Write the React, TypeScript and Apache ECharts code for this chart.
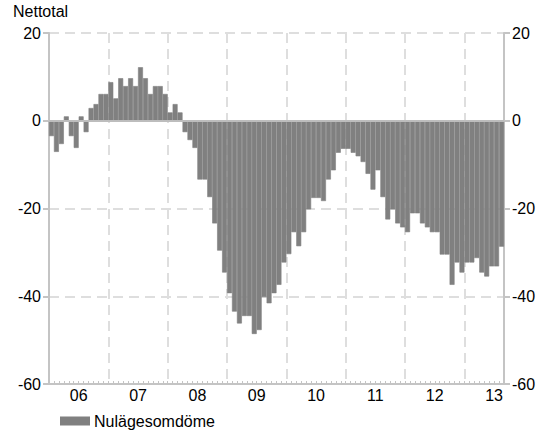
import React, { useEffect, useRef } from "react";
import * as echarts from "echarts";

const FONT = "'Liberation Sans', Arial, sans-serif";

const years = ["06", "07", "08", "09", "10", "11", "12", "13"];
const monthNames = ["jan", "feb", "mar", "apr", "maj", "jun", "jul", "aug", "sep", "okt", "nov", "dec"];

const v2006 = [-3.5, -7.1, -5.3, 1.0, -3.5, -6.2, 1.0, -2.6, 2.9, 3.8, 6.1, 6.1];
const v2007 = [8.8, 5.1, 9.7, 7.9, 9.7, 7.9, 12.2, 9.7, 6.1, 7.9, 7.9, 6.1];
const v2008 = [1.9, 3.8, 1.9, -2.6, -4.4, -6.2, -13.4, -13.4, -17.4, -23.4, -29.6, -34.6];
const v2009 = [-39.3, -43.5, -46.2, -44.5, -44.5, -48.6, -47.7, -40.2, -41.6, -39.3, -37.4, -32.3];
const v2010 = [-30.4, -25.4, -28.6, -25.4, -20.2, -17.6, -17.6, -18.3, -13.4, -11.3, -7.3, -6.4];
const v2011 = [-6.4, -7.3, -8.1, -9.4, -12.1, -15.7, -11.3, -17.4, -22.5, -20.2, -23.4, -24.3];
const v2012 = [-25.4, -21.1, -21.1, -23.4, -24.3, -25.4, -25.4, -30.5, -30.5, -37.4, -32.3, -34.6];
const v2013 = [-32.3, -32.3, -31.3, -34.6, -35.5, -33.2, -33.2, -28.7];

const yTicks = { min: -60, max: 20, interval: 20 };
const seriesName = "Nulägesomdöme";
const yName = "Nettotal";

export default function App() {
  const ref = useRef<HTMLDivElement>(null);

  useEffect(() => {
    document.body.style.margin = "0";
    const values = [...v2006, ...v2007, ...v2008, ...v2009, ...v2010, ...v2011, ...v2012, ...v2013];
    const cats: string[] = [];
    for (let i = 0; i < values.length; i++) {
      cats.push(monthNames[i % 12] + " " + years[Math.floor(i / 12)]);
    }
    const n = values.length;
    const axisGray = "#c4c4c4";
    const chart = echarts.init(ref.current!, null, { renderer: "svg" });
    chart.setOption({
      animation: false,
      textStyle: { fontFamily: FONT },
      grid: { left: 49, right: 44, top: 33, bottom: 47 },
      legend: {
        left: 55,
        top: 408,
        icon: "rect",
        itemWidth: 28,
        itemHeight: 7,
        itemGap: 10,
        textStyle: { fontSize: 16, color: "#000", fontFamily: FONT },
        data: [seriesName],
      },
      graphic: [
        {
          type: "text",
          left: 13,
          top: 3,
          style: { text: yName, fill: "#000", font: "16px " + FONT },
        },
      ],
      xAxis: [
        {
          type: "category",
          data: cats,
          boundaryGap: true,
          position: "bottom",
          axisLine: { onZero: false, lineStyle: { color: axisGray, width: 2 } },
          axisTick: { show: true, inside: true, interval: 0, length: 3, lineStyle: { color: axisGray, width: 1 } },
          axisLabel: { show: false },
          splitLine: {
            show: true,
            interval: (i: number) => i > 0 && i % 12 === 0,
            lineStyle: { color: "#dedede", width: 2, type: [10, 6] },
          },
        },
        {
          type: "value",
          min: 0,
          max: n,
          interval: 6,
          position: "bottom",
          axisLine: { show: false, onZero: false },
          axisTick: { show: false },
          splitLine: { show: false },
          axisLabel: {
            show: true,
            margin: 3,
            fontSize: 16,
            color: "#000",
            fontFamily: FONT,
            showMaxLabel: false,
            formatter: (v: number) => (v % 12 === 6 ? years[(v - 6) / 12] : ""),
          },
        },
      ],
      yAxis: [
        {
          type: "value",
          position: "left",
          ...yTicks,
          axisLine: { show: true, onZero: false, lineStyle: { color: axisGray, width: 2 } },
          axisTick: { show: true, length: 6, lineStyle: { color: axisGray, width: 2 } },
          axisLabel: { margin: 8, fontSize: 16, color: "#000", fontFamily: FONT },
          splitLine: { show: true, lineStyle: { color: "#dedede", width: 2, type: [10, 6] } },
        },
        {
          type: "value",
          position: "right",
          ...yTicks,
          axisLine: { show: true, onZero: false, lineStyle: { color: axisGray, width: 2 } },
          axisTick: { show: true, length: 6, lineStyle: { color: axisGray, width: 2 } },
          axisLabel: { margin: 8, fontSize: 16, color: "#000", fontFamily: FONT },
          splitLine: { show: false },
        },
      ],
      series: [
        {
          type: "bar",
          name: seriesName,
          data: values,
          xAxisIndex: 0,
          yAxisIndex: 0,
          barCategoryGap: "0%",
          itemStyle: { color: "#808080", borderColor: "#808080", borderWidth: 0.6 },
          markLine: {
            silent: true,
            symbol: "none",
            label: { show: false },
            lineStyle: { color: "#bdbdbd", width: 2, type: "solid" },
            data: [{ yAxis: 0 }],
          },
        },
      ],
    });
    return () => chart.dispose();
  }, []);

  return <div ref={ref} style={{ width: 548, height: 431 }} />;
}
